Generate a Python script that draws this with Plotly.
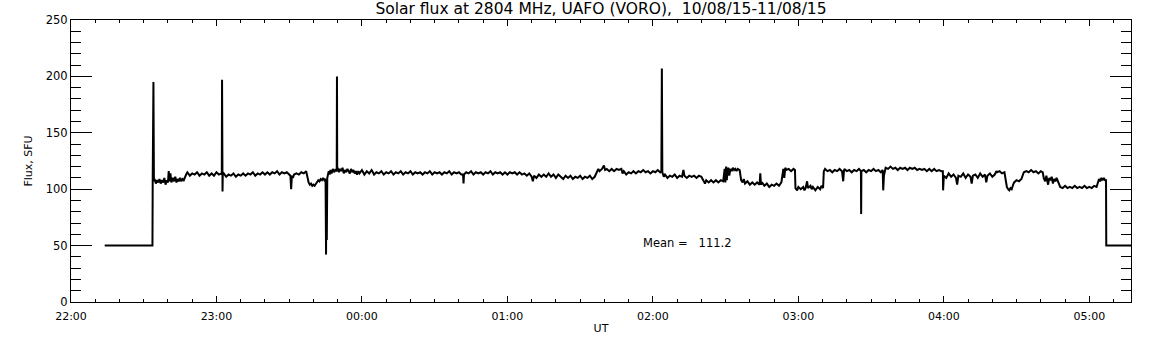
import pandas as pd
import plotly.graph_objects as go

# ---- data ----
start_time = "2015-08-10 22:00"
title_text = "Solar flux at 2804 MHz, UAFO (VORO),  10/08/15-11/08/15"
mean_value = 111.2
x_end_minutes = 437.2

xtick_labels = ["22:00", "23:00", "00:00", "01:00", "02:00", "03:00", "04:00", "05:00"]
ytick_vals = [0, 50, 100, 150, 200, 250]

# minutes after 22:00 UT
minutes = [
    13.9, 33.6, 33.7, 34.0, 34.2,
    34.5, 35, 35.5, 36, 36.5, 37, 37.5, 38, 38.5, 39, 39.5, 40, 40.3, 40.6, 41, 41.4, 42, 42.5, 43, 43.5, 44, 44.5, 45, 45.5, 46, 46.5, 47,
    47.5, 48, 49, 50, 51, 52, 53, 54, 55, 56, 57, 58, 59, 60, 61, 62,
    62.2, 62.3, 62.4, 62.5, 62.6,
    63, 64, 65, 66, 67, 68, 69, 70, 71, 72, 73, 74, 75, 76, 77, 78, 79, 80, 81, 82, 83, 84, 85, 86, 87, 88, 89, 90,
    90.5, 90.8, 91.1, 91.5, 92, 93, 94, 95, 96, 97,
    97.5, 98, 98.5, 99, 99.5, 100, 100.5, 101, 101.5, 102, 102.5, 103, 103.5, 104, 104.5, 105.0, 105.2, 105.3, 105.5, 105.7,
    106, 106.3, 106.7, 107, 107.5, 108, 108.5, 109, 109.6, 109.7, 109.8, 110, 110.5, 111, 111.5, 112, 112.5, 113, 113.5, 114, 114.5,
    115, 115.5, 116, 116.5, 117, 117.5, 118, 118.5, 119, 120, 121, 122, 123, 124, 125, 126, 127, 128, 129, 130, 131, 132,
    133, 134, 135, 136, 137, 138, 139, 140, 141, 142, 143, 144, 145, 146, 147, 148, 149, 150, 151, 152, 153, 154, 155, 156, 157, 158, 159, 160, 161,
    161.7, 161.9, 162.1,
    163, 164, 165, 166, 167, 168, 169, 170, 171, 172, 173, 174, 175, 176, 177, 178, 179, 180, 181, 182, 183, 184, 185, 186, 187, 188, 189,
    190, 190.5, 191, 192, 193, 194, 195, 196, 197, 198, 199, 200, 201, 202,
    203, 204, 205, 206, 207, 208, 209, 210, 211, 212, 213, 214, 215, 216,
    216.9, 217.5, 218, 219, 219.8, 220.3, 221, 222, 223, 224, 225, 226, 227,
    227.5, 228, 229, 230, 231, 232, 233, 234, 235, 236, 237, 238, 239, 240, 241, 242, 243, 243.5, 243.7, 243.9,
    244.5, 245, 246, 247, 248, 249, 250, 251, 252, 252.6, 253, 254, 255, 256, 257, 258, 259, 260,
    260.8, 261.5, 262, 263, 264, 265, 266, 267, 268, 269,
    269.6, 269.9, 270.2, 270.5, 270.8, 271.2, 271.5, 272, 272.5, 273, 273.5, 274, 274.5, 275, 275.8,
    276.4, 277, 277.5, 278, 279, 280, 281, 282, 283, 284, 284.3, 284.6, 285, 286, 287, 288, 289, 290, 291, 292, 293,
    293.4, 293.8, 294.2, 294.6, 295, 296, 297, 298, 298.6,
    298.8, 299.5, 300, 301, 302, 302.5, 303, 303.6, 304, 305, 305.5, 306, 307, 308, 309, 309.5, 310.2,
    310.5, 311, 312, 313, 314, 315, 316, 317, 318, 318.5, 318.8, 319, 320, 321, 322, 323, 324, 325, 325.8, 325.9, 326.0,
    327, 328, 329, 330, 331, 332, 333, 334, 334.8,
    335.0, 335.3, 335.8,
    336, 337, 338, 339, 340, 341, 342, 343, 344, 345, 346, 347, 348, 349, 350, 351, 352, 353, 354, 355, 356, 357, 358, 359,
    359.6, 359.7, 359.8,
    360, 361, 362, 363, 364, 365, 365.5, 366, 367, 368, 369, 370, 371, 371.5, 372, 373, 374, 375, 376, 377, 377.5, 378, 379, 380, 381, 381.7,
    382, 383, 384, 385,
    385.5, 386, 386.5, 387, 387.5, 388, 388.6, 389, 390, 391, 392, 392.5,
    393, 394, 395, 396, 397, 398, 399, 400, 400.8,
    401.2, 401.8, 402.3, 403, 403.5, 404, 404.5, 405, 405.5, 406, 406.5, 407.2,
    408, 409, 410, 411, 412, 413, 414, 415, 416, 417, 418, 419, 420, 421, 422, 423,
    423.6, 424, 424.5, 425, 425.5, 426, 426.5, 426.9,
    427.0, 437.2,
]

flux = [
    50, 50, 108, 195, 107,
    109, 105, 108, 106, 109, 105, 108, 106, 110, 104, 108, 106, 116, 107, 114, 106, 110, 107, 111, 106, 109, 107, 110, 107, 109, 108, 111,
    113, 115, 112, 114, 113, 115, 112, 114, 113, 115, 112, 114, 112, 115, 113, 114,
    113, 197, 113, 98, 113,
    114, 111, 113, 112, 114, 111, 113, 112, 114, 112, 114, 113, 115, 112, 114, 113, 115, 113, 115, 113, 115, 114, 116, 113, 115, 114, 115, 113,
    112, 100, 112, 110, 113, 114, 113, 115, 114, 116,
    110, 106, 104, 105, 103, 104, 103, 105, 106, 108, 107, 109, 108, 110, 108, 109, 42, 108, 55, 110,
    113, 116, 113, 117, 114, 118, 115, 117, 116, 200, 117, 119, 115, 118, 116, 119, 114, 117, 115, 118, 116,
    114, 118, 115, 117, 114, 116, 113, 116, 114, 117, 113, 116, 114, 117, 113, 115, 114, 116, 113, 115, 114, 116,
    113, 115, 114, 116, 113, 115, 114, 116, 113, 115, 114, 115, 113, 115, 114, 116, 113, 115, 114, 115, 113, 115, 114, 116, 113, 115, 114, 115, 113,
    113, 105, 113,
    115, 114, 116, 113, 115, 114, 115, 113, 115, 114, 116, 113, 115, 114, 115, 113, 115, 113, 115, 114, 115, 113, 115, 113, 114, 112, 114,
    111, 107, 112, 110, 113, 111, 113, 111, 114, 111, 113, 110, 113, 111,
    109, 112, 110, 112, 109, 111, 110, 112, 109, 111, 110, 112, 109, 111,
    116, 118, 116, 118, 121, 117, 118, 116, 118, 116, 118, 117, 118,
    114, 116, 113, 115, 114, 116, 114, 116, 115, 117, 115, 116, 114, 116, 115, 117, 115, 116, 207, 115,
    111, 113, 110, 112, 111, 113, 110, 112, 111, 117, 112, 110, 112, 111, 112, 110, 112, 111,
    107, 105, 108, 106, 108, 106, 108, 106, 108, 107,
    118, 106, 120, 108, 117, 119, 112, 118, 116, 119, 117, 118, 116, 118, 117,
    108, 106, 109, 105, 107, 104, 106, 104, 106, 104, 114, 104, 106, 103, 105, 102, 104, 103, 105, 103, 106,
    112, 118, 110, 119, 117, 118, 116, 118, 117,
    101, 99, 102, 100, 102, 99, 101, 107, 101, 103, 100, 102, 99, 102, 100, 103, 101,
    116, 118, 116, 117, 115, 117, 116, 118, 116, 107, 116, 118, 116, 117, 115, 117, 116, 118, 116, 78, 116,
    117, 115, 117, 116, 118, 116, 117, 115, 117,
    99, 112, 118,
    119, 118, 120, 118, 119, 117, 119, 118, 119, 117, 119, 118, 119, 117, 118, 117, 118, 116, 118, 116, 118, 116, 117, 116,
    116, 99, 112,
    112, 110, 114, 111, 113, 110, 104, 112, 111, 114, 110, 113, 111, 105, 112, 113, 110, 114, 111, 113, 106, 112, 114, 111, 113, 116,
    115, 116, 114, 115,
    108, 102, 100, 99, 101, 100, 104, 106, 108, 107, 109, 112,
    115, 116, 115, 117, 115, 116, 114, 116, 115,
    110, 107, 112, 104, 110, 108, 111, 105, 109, 107, 110, 106,
    102, 101, 103, 101, 102, 101, 103, 101, 102, 101, 103, 101, 102, 101, 103, 102,
    106, 109, 107, 110, 108, 110, 108, 108,
    50, 50,
]

# ---- figure ----
t0 = pd.Timestamp(start_time)
times = t0 + pd.to_timedelta(minutes, unit="m")
xtick_vals = [t0 + pd.Timedelta(hours=i) for i in range(len(xtick_labels))]
x_end = t0 + pd.Timedelta(minutes=x_end_minutes)

FONT = "DejaVu Sans"

fig = go.Figure()
fig.add_trace(go.Scatter(
    x=times, y=flux, mode="lines",
    line=dict(color="black", width=2),
    hoverinfo="skip", showlegend=False,
))

fig.update_layout(
    width=1152, height=345,
    margin=dict(l=71, r=21, t=20, b=41, pad=0),
    paper_bgcolor="white", plot_bgcolor="white",
    font=dict(family=FONT, size=11, color="black"),
    title=dict(text=title_text, x=0.5, xref="paper", y=1 - 9 / 345,
               yref="container", yanchor="middle", xanchor="center",
               font=dict(family=FONT, size=15.5, color="black")),
    showlegend=False,
)

fig.update_xaxes(
    range=[t0, x_end], type="date",
    tickvals=xtick_vals, ticktext=xtick_labels,
    ticks="inside", ticklen=6, tickwidth=1, tickcolor="black",
    minor=dict(dtick=600000, ticks="inside", ticklen=3, tickcolor="black", tickwidth=1),
    showline=True, linecolor="black", linewidth=1, mirror="ticks",
    showgrid=False, zeroline=False,
    ticklabelstandoff=4,
    title=dict(text="UT", standoff=2, font=dict(size=11)),
    tickfont=dict(size=11),
)
fig.update_yaxes(
    range=[0, 250], tickvals=ytick_vals,
    ticks="inside", ticklen=21, tickwidth=1, tickcolor="black",
    minor=dict(dtick=10, ticks="inside", ticklen=10, tickcolor="black", tickwidth=1),
    showline=True, linecolor="black", linewidth=1, mirror="ticks",
    showgrid=False, zeroline=False,
    title=dict(text="Flux, SFU", standoff=10, font=dict(size=11)),
    tickfont=dict(size=11.5),
)

fig.add_annotation(
    text="Mean =\u00a0\u00a0 " + f"{mean_value:.1f}",
    xref="paper", yref="paper", x=0.582, y=0.208,
    showarrow=False, xanchor="center", yanchor="middle",
    font=dict(family=FONT, size=11.5, color="black"),
)

fig.write_html("out.html", config={"displayModeBar": False},
               post_script="document.body.style.margin='0px';")
